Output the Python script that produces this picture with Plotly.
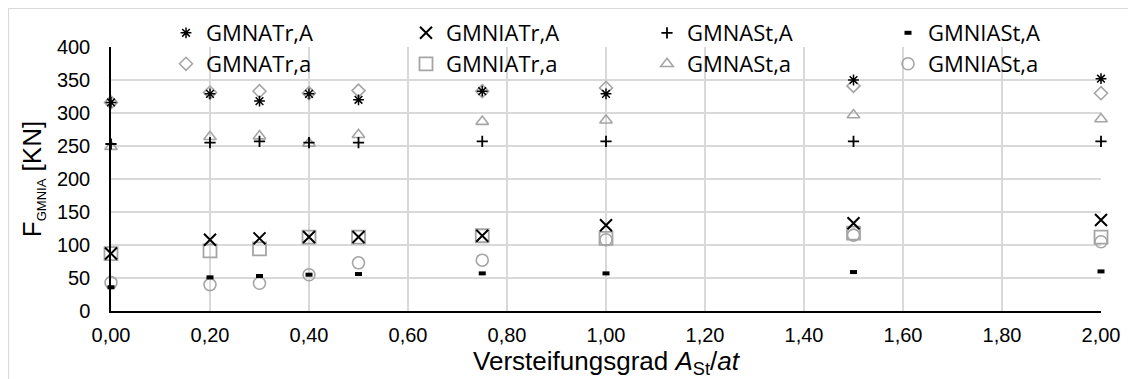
import plotly.graph_objects as go

# Data
x_vals = [0.0, 0.2, 0.3, 0.4, 0.5, 0.75, 1.0, 1.5, 2.0]

gmnatr_A = [316, 329, 318, 329, 320, 333, 329, 350, 352]
gmniatr_A = [87, 108, 110, 112, 112, 114, 130, 133, 138]
gmnast_A = [253, 255, 257, 255, 255, 257, 257, 257, 257]
gmniast_A = [36, 51, 53, 55, 56, 57, 57, 59, 60]

gmnatr_a = [316, 331, 333, 330, 334, 333, 338, 341, 330]
gmniatr_a = [87, 91, 94, 112, 112, 114, 110, 118, 112]
gmnast_a = [249, 264, 265, 254, 267, 287, 289, 297, 291]
gmniast_a = [43, 40, 42, 55, 73, 77, 108, 115, 105]

names_A = ["GMNATr,A", "GMNIATr,A", "GMNASt,A", "GMNIASt,A"]
names_a = ["GMNATr,a", "GMNIATr,a", "GMNASt,a", "GMNIASt,a"]

BLACK = "#000000"
GRAY = "#A5A5A5"

# figure geometry (page has an 8px body margin)
W, H = 1128, 371
ML, MR, MT, MB = 103, 35, 39, 68
PW, PH = W - ML - MR, H - MT - MB

fig = go.Figure()

series_A = [
    (names_A[0], gmnatr_A, "asterisk-open", 9, 1.5),
    (names_A[1], gmniatr_A, "x-thin-open", 12, 2.0),
    (names_A[2], gmnast_A, "cross-thin-open", 8, 1.8),
    (names_A[3], gmniast_A, "line-ew-open", 5, 4.0),
]
series_a = [
    (names_a[0], gmnatr_a, "diamond-open", 10, 1.6),
    (names_a[1], gmniatr_a, "square-open", 13, 1.8),
    (names_a[2], gmnast_a, "triangle-up-open", 11, 1.6),
    (names_a[3], gmniast_a, "circle-open", 12, 1.6),
]

# legend text start positions (figure px) for the 4 columns, rows centres
col_text_px = [200, 440, 681, 922]
row_px = [25, 56]

legends = {}
for row, series, color in [(1, series_a, GRAY), (0, series_A, BLACK)]:
    for col, (name, ys, sym, size, lw) in enumerate(series):
        idx = row * 4 + col + 1
        lname = "legend" if idx == 1 else f"legend{idx}"
        legends[lname] = dict(
            x=(col_text_px[col] - 42 - ML) / PW,
            y=(H - MB - row_px[row]) / PH,
            xanchor="left", yanchor="middle",
            orientation="h",
            font=dict(family="Open Sans, Arial", size=22, color="#000000"),
            bgcolor="rgba(0,0,0,0)", itemwidth=30,
        )
        fig.add_trace(go.Scatter(
            x=x_vals, y=ys, mode="markers", name=name, legend=lname,
            marker=dict(symbol=sym, size=size, color=color, line=dict(color=color, width=lw)),
            cliponaxis=False,
        ))

fig.update_layout(
    width=W, height=H,
    margin=dict(l=ML, r=MR, t=MT, b=MB, autoexpand=False),
    paper_bgcolor="white", plot_bgcolor="white",
    separators=", ",
    showlegend=True,
    font=dict(family="Arial, Liberation Sans", color="#000000"),
    xaxis=dict(
        range=[0, 2.0], dtick=0.2, tick0=0, tickformat=".2f",
        showgrid=True, gridcolor="#D9D9D9", gridwidth=1.5,
        showline=True, linecolor="#000000", linewidth=1.5,
        zeroline=False, ticks="", ticklabelstandoff=5,
        tickfont=dict(family="Arial, Liberation Sans", size=20, color="#000000"),
        title=dict(text="Versteifungsgrad <i>A</i><sub>St</sub>/<i>at</i>",
                   font=dict(family="Arial, Liberation Sans", size=26, color="#000000"),
                   standoff=4),
    ),
    yaxis=dict(
        range=[0, 400], dtick=50, tick0=0,
        showgrid=True, gridcolor="#D9D9D9", gridwidth=1.5,
        showline=True, linecolor="#000000", linewidth=1.5,
        zeroline=False, ticks="", ticklabelstandoff=15,
        tickfont=dict(family="Arial, Liberation Sans", size=20, color="#000000"),
        title=dict(text="F<sub><span style='font-size:13px'>GMNIA</span></sub> [KN]",
                   font=dict(family="Arial, Liberation Sans", size=26, color="#000000"),
                   standoff=8),
    ),
    shapes=[dict(type="rect", xref="paper", yref="paper",
                 x0=-(ML - 0.5) / PW, x1=1.2, y0=-0.4, y1=1 + (MT - 0.5) / PH,
                 line=dict(color="#D9D9D9", width=1.2), fillcolor="rgba(0,0,0,0)",
                 layer="below")],
)
fig.update_layout(**legends)

fig.write_html("out.html")
